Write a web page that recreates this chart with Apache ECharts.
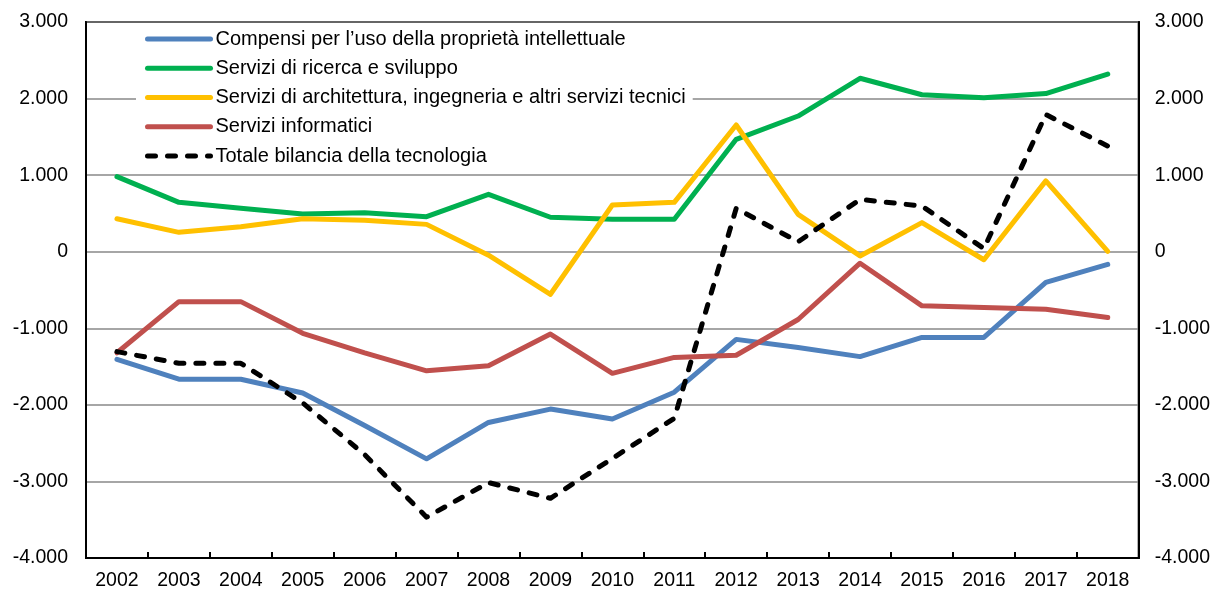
<!DOCTYPE html>
<html>
<head>
<meta charset="utf-8">
<script src="https://cdn.jsdelivr.net/npm/echarts@6/dist/echarts.min.js"></script>
<style>
html,body{margin:0;padding:0;background:#fff;}
#chart{width:1213px;height:593px;}
</style>
</head>
<body>
<div id="chart"></div>
<script>
const years = ['2002','2003','2004','2005','2006','2007','2008','2009','2010','2011','2012','2013','2014','2015','2016','2017','2018'];
const compensi = [-1405, -1665, -1665, -1845, -2270, -2705, -2230, -2055, -2185, -1835, -1145, -1250, -1370, -1120, -1120, -400, -165];
const ricerca = [980, 645, 567, 492, 510, 458, 750, 450, 425, 425, 1468, 1772, 2265, 2050, 2012, 2065, 2320];
const architettura = [430, 253, 327, 431, 410, 357, -45, -556, 610, 645, 1655, 488, -55, 380, -105, 925, 5];
const informatici = [-1320, -652, -652, -1065, -1320, -1555, -1488, -1075, -1588, -1380, -1352, -885, -150, -707, -730, -752, -860];
const totale = [-1305, -1457, -1457, -1975, -2650, -3467, -3015, -3220, -2700, -2175, 566, 130, 683, 596, 40, 1792, 1380];
const seriesNames = [
  'Compensi per l\u2019uso della propriet\u00e0 intellettuale',
  'Servizi di ricerca e sviluppo',
  'Servizi di architettura, ingegneria e altri servizi tecnici',
  'Servizi informatici',
  'Totale bilancia della tecnologia'
];
const yTicks = {min: -4000, max: 3000, interval: 1000};

function fmt(v){
  if (v === 0) return '0';
  const s = v < 0 ? '-' : '';
  const a = Math.abs(v);
  const th = Math.floor(a / 1000);
  const r = String(a % 1000).padStart(3, '0');
  return th > 0 ? s + th + '.' + r : s + (a % 1000);
}

const FONT = '"Liberation Sans", Arial, sans-serif';
const chart = echarts.init(document.getElementById('chart'), null, {renderer: 'canvas'});

function lineSeries(name, data, color, dashed){
  return {
    name: name, type: 'line', data: data, symbol: 'none', showSymbol: false,
    lineStyle: {color: color, width: 5, type: dashed ? [8, 12] : 'solid', cap: 'round', join: 'round'},
    itemStyle: {color: color},
    z: 3, animation: false
  };
}

const yAxisCommon = {
  type: 'value', min: yTicks.min, max: yTicks.max, interval: yTicks.interval,
  axisLine: {show: true, lineStyle: {color: '#000', width: 2}},
  axisTick: {show: false},
  axisLabel: {color: '#000', fontSize: 19.5, fontFamily: FONT, formatter: fmt}
};

chart.setOption({
  animation: false,
  backgroundColor: '#fff',
  grid: {left: 86, right: 74, top: 22, bottom: 35, show: true, borderColor: '#000', borderWidth: 2, containLabel: false},
  legend: {
    orient: 'vertical', left: 136, top: 25,
    backgroundColor: '#fff',
    padding: [4, 7, 4, 9],
    itemWidth: 63, itemHeight: 20, itemGap: 9.25,
    itemStyle: {opacity: 0},
    lineStyle: {width: 5, cap: 'round'},
    textStyle: {color: '#000', fontSize: 20, fontFamily: FONT, lineHeight: 20},
    data: seriesNames,
    z: 10
  },
  xAxis: {
    type: 'category', data: years, boundaryGap: true,
    axisLine: {show: true, onZero: false, lineStyle: {color: '#000', width: 2}},
    axisTick: {show: true, inside: true, length: 6, interval: 0, lineStyle: {color: '#000', width: 2}},
    axisLabel: {color: '#000', fontSize: 19.5, fontFamily: FONT, margin: 13, interval: 0},
    splitLine: {show: false}
  },
  yAxis: [
    Object.assign({}, yAxisCommon, {position: 'left', axisLabel: Object.assign({}, yAxisCommon.axisLabel, {margin: 18}),
      splitLine: {show: true, lineStyle: {color: '#888', width: 1.5}}}),
    Object.assign({}, yAxisCommon, {position: 'right', axisLabel: Object.assign({}, yAxisCommon.axisLabel, {margin: 16}),
      splitLine: {show: false}})
  ],
  series: [
    lineSeries(seriesNames[0], compensi, '#4F81BD', false),
    lineSeries(seriesNames[1], ricerca, '#00B050', false),
    lineSeries(seriesNames[2], architettura, '#FFC000', false),
    lineSeries(seriesNames[3], informatici, '#C0504D', false),
    lineSeries(seriesNames[4], totale, '#000000', true)
  ]
});
</script>
</body>
</html>
